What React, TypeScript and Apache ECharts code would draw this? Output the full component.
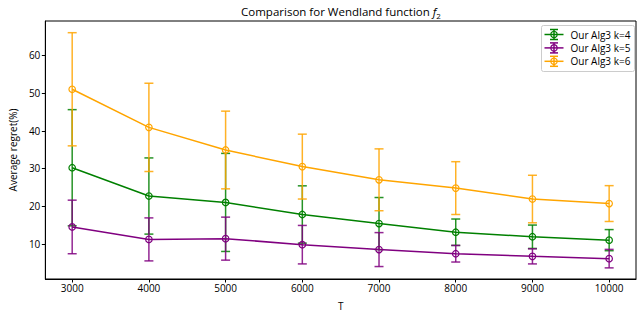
import React, { useEffect, useRef } from "react";
import * as echarts from "echarts";

const T = [3000, 4000, 5000, 6000, 7000, 8000, 9000, 10000];
const k4Mean = [30.2, 22.7, 21.0, 17.8, 15.4, 13.1, 11.9, 11.0];
const k4Err = [15.4, 10.1, 13.0, 7.6, 6.9, 3.5, 3.1, 2.8];
const k5Mean = [14.5, 11.2, 11.4, 9.8, 8.5, 7.4, 6.7, 6.1];
const k5Err = [7.1, 5.7, 5.7, 5.1, 4.5, 2.2, 2.0, 2.45];
const k6Mean = [51.0, 40.9, 34.9, 30.5, 27.0, 24.8, 21.9, 20.7];
const k6Err = [15.0, 11.7, 10.3, 8.6, 8.2, 7.0, 6.3, 4.75];
const yTicks = [10, 20, 30, 40, 50, 60];
const xTicks = [3000, 4000, 5000, 6000, 7000, 8000, 9000, 10000];
const seriesNames = ["Our Alg3 k=4", "Our Alg3 k=5", "Our Alg3 k=6"];
const colors = ["#008000", "#800080", "#FFA500"];

const FONT = "'Open Sans', 'Noto Sans', sans-serif";

export default function App() {
  const ref = useRef<HTMLDivElement>(null);
  useEffect(() => {
    document.body.style.margin = "0";
    const chart = echarts.init(ref.current!, null, { renderer: "svg" });
    const means = [k4Mean, k5Mean, k6Mean];
    const errs = [k4Err, k5Err, k6Err];
    const series: any[] = [];
    means.forEach((m, i) => {
      const color = colors[i];
      series.push({
        type: "custom",
        name: seriesNames[i] + " err",
        z: 2 + i * 2,
        silent: true,
        data: T.map((t, j) => [t, m[j] - errs[i][j], m[j] + errs[i][j]]),
        renderItem: (params: any, api: any) => {
          const x = api.value(0);
          const pHi = api.coord([x, api.value(2)]);
          const pLo = api.coord([x, api.value(1)]);
          const w = 4.5;
          const st = { stroke: color, lineWidth: 1.5, opacity: 0.85 };
          return {
            type: "group",
            children: [
              { type: "line", shape: { x1: pHi[0], y1: pHi[1], x2: pLo[0], y2: pLo[1] }, style: st },
              { type: "line", shape: { x1: pHi[0] - w, y1: pHi[1], x2: pHi[0] + w, y2: pHi[1] }, style: st },
              { type: "line", shape: { x1: pLo[0] - w, y1: pLo[1], x2: pLo[0] + w, y2: pLo[1] }, style: st },
            ],
          };
        },
      });
      series.push({
        type: "line",
        name: seriesNames[i],
        z: 3 + i * 2,
        data: T.map((t, j) => [t, m[j]]),
        symbol: "circle",
        symbolSize: 6.5,
        itemStyle: { color: "rgba(0,0,0,0)", borderColor: color, borderWidth: 1.2 },
        lineStyle: { color, width: 1.5 },
      });
    });

    const legendChildren: any[] = [
      {
        type: "rect",
        shape: { x: 0, y: 0, width: 93, height: 46, r: 2 },
        style: { fill: "rgba(255,255,255,0.8)", stroke: "#cccccc", lineWidth: 1 },
      },
    ];
    seriesNames.forEach((n, i) => {
      const cy = 9 + i * 13.4;
      const cx = 12.5;
      const c = colors[i];
      const st = { stroke: c, lineWidth: 1.5 };
      legendChildren.push(
        { type: "line", shape: { x1: 3, y1: cy, x2: 22, y2: cy }, style: st },
        { type: "line", shape: { x1: cx, y1: cy - 5, x2: cx, y2: cy + 5 }, style: st },
        { type: "line", shape: { x1: cx - 4, y1: cy - 5, x2: cx + 4, y2: cy - 5 }, style: st },
        { type: "line", shape: { x1: cx - 4, y1: cy + 5, x2: cx + 4, y2: cy + 5 }, style: st },
        { type: "circle", shape: { cx, cy, r: 3.2 }, style: { fill: "none", stroke: c, lineWidth: 1.2 } },
        {
          type: "text",
          x: 29,
          y: cy,
          style: { text: n, fill: "#000", font: `10px ${FONT}`, textVerticalAlign: "middle" },
        }
      );
    });

    chart.setOption({
      animation: false,
      title: {
        text: "Comparison for Wendland function {i|f}{s|2}",
        left: 336,
        textAlign: "center",
        top: 0,
        padding: [3, 5, 3, 5],
        textStyle: {
          fontFamily: FONT,
          fontSize: 11.5,
          fontWeight: "normal",
          color: "#000",
          lineHeight: 16,
          rich: {
            i: { fontFamily: FONT, fontSize: 11.5, fontStyle: "italic", color: "#000", lineHeight: 16 },
            s: { fontFamily: FONT, fontSize: 8, color: "#000", lineHeight: 16, verticalAlign: "bottom" },
          },
        },
      },
      grid: {
        left: 36,
        right: 7,
        top: 21,
        bottom: 36,
        show: true,
        borderColor: "#000",
        borderWidth: 1,
        backgroundColor: "transparent",
      },
      xAxis: {
        type: "value",
        min: 2650,
        max: 10350,
        name: "T",
        nameLocation: "middle",
        nameGap: 22,
        nameTextStyle: { fontFamily: FONT, fontSize: 10, color: "#000" },
        axisLine: { show: true, onZero: false, lineStyle: { color: "#000", width: 1 } },
        axisTick: { show: true, length: 3.5, customValues: xTicks, lineStyle: { color: "#000" } },
        axisLabel: {
          customValues: xTicks,
          formatter: (v: number) => String(v),
          fontFamily: FONT,
          fontSize: 10,
          color: "#000",
          margin: 4,
        },
        splitLine: { show: false },
      },
      yAxis: {
        type: "value",
        min: 0.7,
        max: 69.1,
        name: "Average regret(%)",
        nameLocation: "middle",
        nameGap: 23,
        nameTextStyle: { fontFamily: FONT, fontSize: 10, color: "#000" },
        axisLine: { show: true, onZero: false, lineStyle: { color: "#000", width: 1 } },
        axisTick: { show: true, length: 3.5, customValues: yTicks, lineStyle: { color: "#000" } },
        axisLabel: { customValues: yTicks, fontFamily: FONT, fontSize: 10, color: "#000", margin: 5 },
        splitLine: { show: false },
      },
      series,
      graphic: [{ type: "group", left: 541, top: 25, z: 100, children: legendChildren }],
    });
    return () => chart.dispose();
  }, []);
  return <div ref={ref} style={{ width: 643, height: 316 }} />;
}
